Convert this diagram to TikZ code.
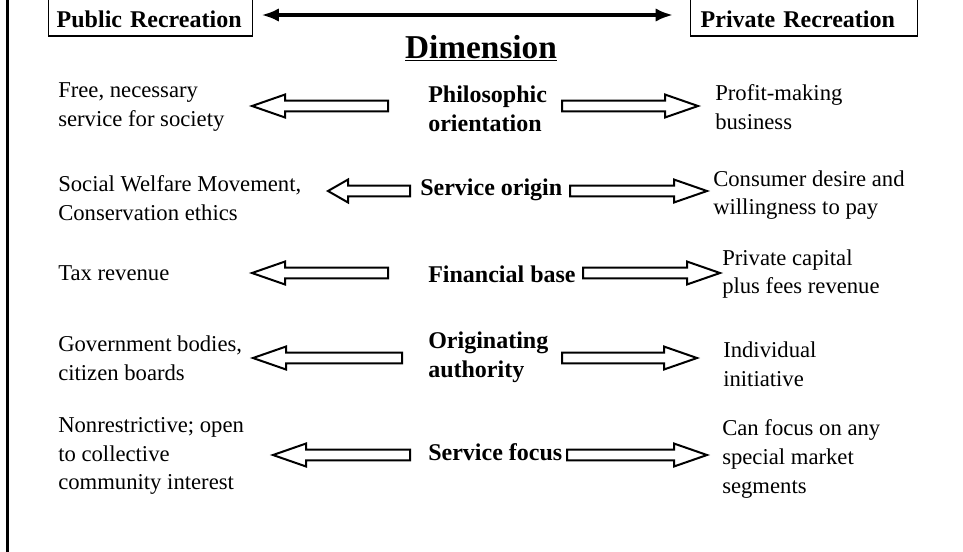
\documentclass[tikz,border=0pt]{standalone}
\usepackage{fontspec}
\setmainfont{Liberation Serif}
\usetikzlibrary{arrows.meta,calc}

\tikzset{
  recbox/.style={draw=black,line width=1.1pt,inner xsep=6pt,inner ysep=0pt,text height=30pt,text depth=6.75pt,align=left,anchor=base west,font=\bfseries\fontsize{18}{21}\selectfont},
  sidetxt/.style={anchor=west,align=left,inner sep=0pt,font=\fontsize{17}{21.5}\selectfont},
  dimtxt/.style={anchor=west,align=left,inner sep=0pt,font=\bfseries\fontsize{18}{22}\selectfont},
  fatarrow/.style={draw=black,line width=1.5pt,fill=white,line join=miter},
  spanarrow/.style={line width=3.5pt,{Latex[length=13pt,width=10pt]}-{Latex[length=13pt,width=10pt]}},
}
% hollow block arrow, tail -> tip, horizontal only
\newcommand{\hollowarrow}[3][24.75pt]{%
  \draw[fatarrow] let \p1=#2, \p2=#3, \p3=($#3!#1!#2$) in
    (\x1,\y1+4pt) -- (\x3,\y1+4pt) -- (\x3,\y1+8.6pt)
    -- (\x2,\y2) -- (\x3,\y1-8.6pt) -- (\x3,\y1-4pt)
    -- (\x1,\y1-4pt) -- cycle;}

\begin{document}
\begin{tikzpicture}[x=0.75pt,y=-0.75pt]
\useasboundingbox (0,0) rectangle (963,551);
%%
\coordinate (ftop) at (7,-5);
\coordinate (fbot) at (7,556);
\draw[line width=2.25pt] (ftop) -- (fbot);
\node (pub) at (48,27) [recbox,text width=141pt] {Public Recreation};
\node (priv) at (690,27) [recbox,inner xsep=7.5pt,text width=155pt] {Private Recreation};
\coordinate (spany) at (0,15);
\draw[spanarrow] ($(pub.east |- spany)+(8,0)$) -- ($(priv.west |- spany)+(-17,0)$);
\node (dimhead) at (481,58) [anchor=base,inner sep=0pt,font=\bfseries\fontsize{25}{30}\selectfont] {\underline{Dimension}};
%
\node (l1) at (58,107) [sidetxt] {Free, necessary\\service for society};
\node (l2) at (58,198) [sidetxt] {Social Welfare Movement,\\Conservation ethics};
\node (l3) at (58,273) [sidetxt] {Tax revenue};
\node (l4) at (58,358) [sidetxt] {Government bodies,\\citizen boards};
\node (l5) at (58,456) [sidetxt] {Nonrestrictive; open\\to collective\\community interest};
\node (c1) at (428,109) [dimtxt] {Philosophic\\orientation};
\node (c2) at (420,190) [dimtxt] {Service origin};
\node (c3) at (428,274) [dimtxt] {Financial base};
\node (c4) at (428,357) [dimtxt] {Originating\\authority};
\node (c5) at (428,452) [dimtxt] {Service focus};
\node (r1) at (715,107) [sidetxt] {Profit-making\\business};
\node (r2) at (713,195) [sidetxt] {Consumer desire and\\willingness to pay};
\node (r3) at (722,274) [sidetxt] {Private capital\\plus fees revenue};
\node (r4) at (723,364) [sidetxt] {Individual\\initiative};
\node (r5) at (722,459) [sidetxt] {Can focus on any\\special market\\segments};
%
\coordinate (t1l) at (388,106); \coordinate (h1l) at (252,106);
\coordinate (t1r) at (562,106); \coordinate (h1r) at (698,106);
\coordinate (t2l) at (410,191); \coordinate (h2l) at (328,191);
\coordinate (t2r) at (570,191); \coordinate (h2r) at (707,191);
\coordinate (t3l) at (388,273); \coordinate (h3l) at (252,273);
\coordinate (t3r) at (583,273); \coordinate (h3r) at (720,273);
\coordinate (t4l) at (402,358); \coordinate (h4l) at (253,358);
\coordinate (t4r) at (562,358); \coordinate (h4r) at (697,358);
\coordinate (t5l) at (410,455); \coordinate (h5l) at (273,455);
\coordinate (t5r) at (567,455); \coordinate (h5r) at (707,455);
\hollowarrow{(t1l)}{(h1l)}
\hollowarrow{(t1r)}{(h1r)}
\hollowarrow[15pt]{(t2l)}{(h2l)}
\hollowarrow{(t2r)}{(h2r)}
\hollowarrow{(t3l)}{(h3l)}
\hollowarrow{(t3r)}{(h3r)}
\hollowarrow{(t4l)}{(h4l)}
\hollowarrow{(t4r)}{(h4r)}
\hollowarrow{(t5l)}{(h5l)}
\hollowarrow{(t5r)}{(h5r)}
%
\end{tikzpicture}
\end{document}
